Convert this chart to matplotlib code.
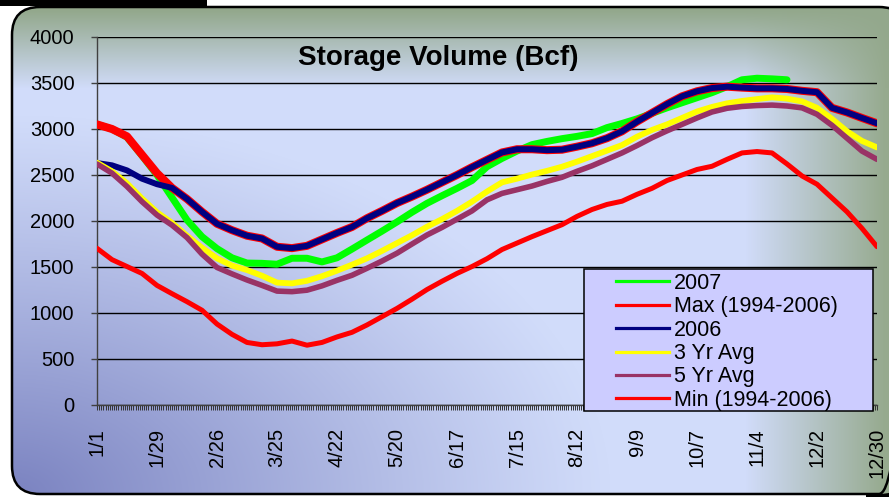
import numpy as np
import matplotlib
matplotlib.use("Agg")
import matplotlib.pyplot as plt
from matplotlib.patches import FancyBboxPatch, Rectangle
from matplotlib.lines import Line2D

plt.rcParams['font.family'] = ['Liberation Sans', 'DejaVu Sans']

# ---------------- data (weekly values, Bcf) ----------------
tick_labels = ["1/1", "1/29", "2/26", "3/25", "4/22", "5/20", "6/17", "7/15",
               "8/12", "9/9", "10/7", "11/4", "12/2", "12/30"]

series_names = ["2007", "Max (1994-2006)", "2006", "3 Yr Avg", "5 Yr Avg",
                "Min (1994-2006)"]

y2007 = [3050, 3000, 2910, 2710, 2500, 2255, 2011, 1830, 1700, 1600,
         1543, 1540, 1530, 1595, 1595, 1555, 1600, 1695, 1793, 1890,
         1990, 2095, 2192, 2275, 2355, 2440, 2590, 2680, 2760, 2830,
         2865, 2895, 2920, 2950, 3015, 3060, 3110, 3170, 3230, 3285,
         3340, 3395, 3460, 3535, 3552, 3545, 3535]

y2006 = [2630, 2605, 2550, 2460, 2400, 2360, 2240, 2100, 1970, 1900,
         1840, 1810, 1720, 1705, 1730, 1800, 1870, 1935, 2030, 2110,
         2195, 2265, 2340, 2420, 2500, 2585, 2665, 2745, 2780, 2780,
         2770, 2775, 2808, 2845, 2900, 2975, 3080, 3175, 3270, 3355,
         3410, 3445, 3460, 3450, 3442, 3442, 3435, 3415, 3400, 3230,
         3180, 3120, 3062]

ymax = [3050, 3000, 2920, 2720, 2520, 2360, 2240, 2100, 1970, 1900,
        1840, 1810, 1720, 1705, 1730, 1800, 1870, 1935, 2030, 2110,
        2195, 2265, 2340, 2420, 2500, 2585, 2665, 2745, 2780, 2780,
        2770, 2775, 2808, 2845, 2900, 2975, 3080, 3175, 3270, 3355,
        3410, 3445, 3460, 3450, 3442, 3442, 3435, 3415, 3400, 3230,
        3180, 3120, 3062]

y3yr = [2634, 2540, 2410, 2245, 2095, 1980, 1840, 1710, 1594, 1515,
        1467, 1405, 1330, 1322, 1350, 1400, 1460, 1525, 1594, 1675,
        1760, 1845, 1938, 2020, 2110, 2210, 2320, 2420, 2460, 2505,
        2545, 2590, 2645, 2705, 2765, 2825, 2916, 2990, 3050, 3120,
        3190, 3240, 3279, 3305, 3325, 3344, 3330, 3300, 3230, 3110,
        2975, 2870, 2800]

y5yr = [2620, 2520, 2375, 2210, 2065, 1955, 1820, 1640, 1495, 1425,
        1359, 1300, 1238, 1232, 1248, 1295, 1355, 1410, 1486, 1565,
        1650, 1750, 1848, 1930, 2020, 2110, 2230, 2300, 2340, 2380,
        2430, 2475, 2540, 2600, 2670, 2740, 2820, 2905, 2980, 3050,
        3120, 3185, 3225, 3245, 3255, 3260, 3250, 3230, 3160, 3040,
        2900, 2760, 2670]

ymin = [1703, 1580, 1505, 1430, 1300, 1210, 1123, 1030, 880, 768,
        680, 655, 665, 695, 650, 680, 740, 790, 870, 960,
        1050, 1150, 1255, 1345, 1430, 1505, 1590, 1690, 1760, 1830,
        1895, 1960, 2050, 2125, 2180, 2215, 2290, 2355, 2440, 2500,
        2560, 2595, 2670, 2740, 2755, 2740, 2620, 2490, 2400, 2250,
        2100, 1920, 1721]

colors = ["#00FF00", "#FF0000", "#000080", "#FFFF00", "#993366", "#FF0000"]
widths = [5.0, 5.8, 4.3, 4.2, 4.0, 3.6]

# ---------------- figure ----------------
W, H = 889, 497
fig = plt.figure(figsize=(W / 100, H / 100), dpi=100)
fig.patch.set_facecolor("white")

bg = fig.add_axes([0, 0, 1, 1], zorder=0)
bg.set_xlim(0, W)
bg.set_ylim(H, 0)
bg.axis("off")

# gradient background
yy, xx = np.mgrid[0:H, 0:W].astype(float)
base = np.array([209, 220, 250]) / 255
topc = np.array([147, 168, 140]) / 255
rightc = np.array([150, 170, 142]) / 255
blc = np.array([122, 130, 192]) / 255
wt = np.clip((88 - yy) / 78, 0, 1)[..., None]
wr = np.clip((xx - 745) / 140, 0, 1)[..., None]
d = np.sqrt(((xx - 10) / 600) ** 2 + ((yy - 495) / 380) ** 2)
wb = (np.clip(1 - d, 0, 1) ** 1.1)[..., None]
img = np.ones((H, W, 3)) * base
img = img * (1 - wb) + blc * wb
img = img * (1 - wr) + rightc * wr
img = img * (1 - wt) + topc * wt

# dark corner at the bottom right
bg.add_patch(Rectangle((866, 460), 30, 40, facecolor="black", edgecolor="none", zorder=1))
frame = FancyBboxPatch((12, 7), 895, 487, boxstyle="round,pad=0,rounding_size=28",
                       facecolor="none", edgecolor="black", linewidth=1.8, zorder=3)
bg.add_patch(frame)
im = bg.imshow(img, extent=(0, W, H, 0), zorder=2, interpolation="bilinear")
clipper = FancyBboxPatch((12, 7), 895, 487, boxstyle="round,pad=0,rounding_size=28",
                         transform=bg.transData, facecolor="none", edgecolor="none")
im.set_clip_path(clipper)
bg.add_patch(Rectangle((0, 0), 207, 6, facecolor="black", edgecolor="none", zorder=4))

# ---------------- main axes ----------------
ax = fig.add_axes([97 / W, 1 - 405 / H, 780 / W, 368 / H], zorder=2)
ax.patch.set_alpha(0)
ax.set_axisbelow(True)

all_series = [y2007, ymax, y2006, y3yr, y5yr, ymin]
for i, (vals, c, lw) in enumerate(zip(all_series, colors, widths)):
    days = np.arange(len(vals)) * 7
    ax.plot(days, vals, color=c, lw=lw, solid_capstyle="round",
            solid_joinstyle="round", zorder=3 + i * 0.1)

ax.set_xlim(0, 364)
ax.set_ylim(0, 4000)
ax.set_yticks(np.arange(0, 4001, 500))
ax.set_yticklabels([str(v) for v in range(0, 4001, 500)])
ax.set_xticks(np.arange(len(tick_labels)) * 28)
ax.set_xticklabels(tick_labels, rotation=90)
ax.set_xticks(np.arange(0, 365, 1), minor=True)

ax.grid(axis="y", color="black", lw=1.0)
for s in ["top", "right"]:
    ax.spines[s].set_visible(False)
for s in ["left", "bottom"]:
    ax.spines[s].set_color("#404040")
    ax.spines[s].set_linewidth(1.0)

ax.tick_params(axis="y", direction="out", length=4.3, width=1.0, color="#404040",
               pad=12, labelsize=14.5, labelcolor="black")
ax.tick_params(axis="x", which="both", direction="out", length=3.6, width=0.7,
               color="#333333", pad=13, labelsize=14.5, labelcolor="black")

fig.text(438.5 / W, 1 - 65 / H, "Storage Volume (Bcf)", ha="center", va="baseline",
         fontsize=20, fontweight="bold", color="black")

# legend box
box = Rectangle((584, 269), 289, 142, transform=bg.transData, facecolor="#CCCCFF",
                edgecolor="black", linewidth=1.1, clip_on=False, zorder=10)
ax.add_patch(box)
handles = [Line2D([], [], color=c, lw=2.3) for c in colors]
leg = ax.legend(handles, series_names, loc="upper left",
                bbox_to_anchor=(616 / W, 1 - 273 / H), bbox_transform=fig.transFigure,
                frameon=False, borderpad=0, borderaxespad=0, handlelength=2.47,
                handletextpad=0.23, labelspacing=0.11, fontsize=15.5)
leg.set_zorder(11)

fig.savefig("out.png", dpi=100)
